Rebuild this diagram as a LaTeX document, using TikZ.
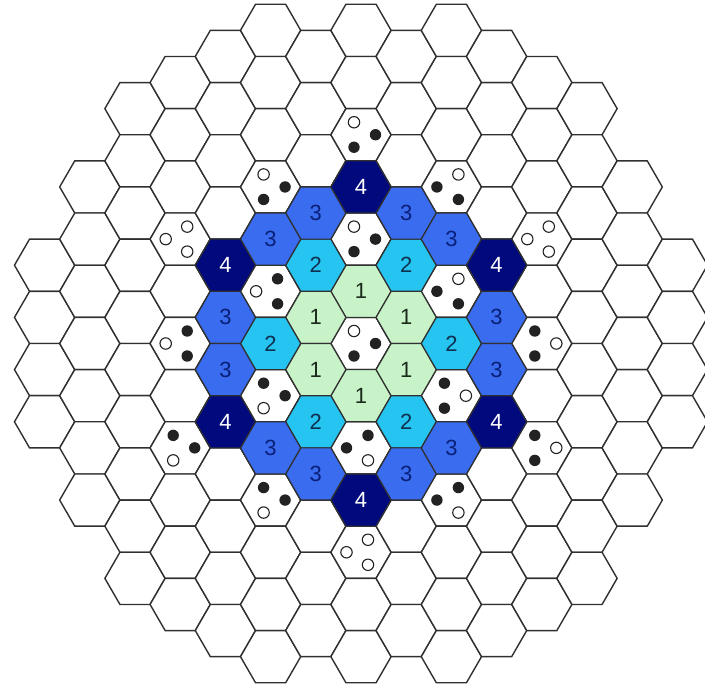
\documentclass[tikz,border=0pt]{standalone}
\usepackage{fontspec}
\setmainfont{Liberation Sans}
\definecolor{gridc}{HTML}{303030}
\definecolor{ringone}{HTML}{C8F2C8}
\definecolor{ringtwo}{HTML}{26C4F0}
\definecolor{ringthree}{HTML}{3A6CF0}
\definecolor{ringfour}{HTML}{000A7C}
\definecolor{txtone}{HTML}{1A2A1A}
\definecolor{txttwo}{HTML}{0F3050}
\definecolor{txtthree}{HTML}{0A2078}
\definecolor{dotc}{HTML}{222222}
\newcommand\hexcell[3]{\path[#3] ({361+45.2*(#1)+30.13},{343.5+52.19*(#2)}) -- ++(-15.065,26.095) -- ++(-30.13,0) -- ++(-15.065,-26.095) -- ++(15.065,-26.095) -- ++(30.13,0) -- cycle;}
\newcommand\dotsR[5]{\begin{scope}[shift={({361+45.2*(#1)},{343.5+52.19*(#2)})}]
 \path[#3] (-7,-12.5) circle (5.7pt); \path[#4] (14.5,0) circle (5.7pt); \path[#5] (-7,12.5) circle (5.7pt);\end{scope}}
\newcommand\dotsL[5]{\begin{scope}[shift={({361+45.2*(#1)},{343.5+52.19*(#2)})}]
 \path[#3] (7,-12.5) circle (5.7pt); \path[#4] (-14.5,0) circle (5.7pt); \path[#5] (7,12.5) circle (5.7pt);\end{scope}}
\tikzset{
  cellw/.style={draw=gridc,line width=1.4pt,fill=white,line join=miter},
  cellone/.style={draw=gridc,line width=1.2pt,fill=ringone},
  celltwo/.style={draw=gridc,line width=1.2pt,fill=ringtwo},
  cellthree/.style={draw=gridc,line width=1.2pt,fill=ringthree},
  cellfour/.style={draw=gridc,line width=1.2pt,fill=ringfour},
  labbase/.style={font=\fontsize{22}{22}\selectfont,inner sep=0pt},
  labone/.style={labbase,text=txtone},
  labtwo/.style={labbase,text=txttwo},
  labthree/.style={labbase,text=txtthree},
  labfour/.style={labbase,text=white},
  dotf/.style={fill=dotc},
  doto/.style={draw=dotc,fill=white,line width=1.1pt}
}
\begin{document}
\begin{tikzpicture}[x=1pt,y=-1pt]
\useasboundingbox (0,0) rectangle (705,686);
\clip (0,0) rectangle (705,686);
\fill[white] (0,0) rectangle (705,686);
% white grid
\foreach \q/\T in {-7/1.5,-6/3,-5/4.5,-4/5,-3/5.5,-2/6,-1/5.5,0/6,1/5.5,2/6,3/5.5,4/5,5/4.5,6/3,7/1.5}{
  \pgfmathtruncatemacro\n{2*\T}
  \foreach \i in {0,...,\n}{
    \pgfmathsetmacro\k{\i-\T}
    \hexcell{\q}{\k}{cellw}
  }
}
% ring 1
\foreach \q/\k [count=\j] in {0/-1,0/1,-1/-0.5,-1/0.5,1/-0.5,1/0.5}{
  \hexcell{\q}{\k}{cellone}
  \node[labone] (one\j) at ({361+45.2*\q},{343.5+52.19*\k}) {1};
}
% ring 2 (edges)
\foreach \q/\k [count=\j] in {-1/-1.5,1/-1.5,-1/1.5,1/1.5,-2/0,2/0}{
  \hexcell{\q}{\k}{celltwo}
  \node[labtwo] (two\j) at ({361+45.2*\q},{343.5+52.19*\k}) {2};
}
% ring 3 (non-corners)
\foreach \q/\k [count=\j] in {-1/-2.5,1/-2.5,-1/2.5,1/2.5,-2/-2,2/-2,-2/2,2/2,-3/-0.5,3/-0.5,-3/0.5,3/0.5}{
  \hexcell{\q}{\k}{cellthree}
  \node[labthree] (three\j) at ({361+45.2*\q},{343.5+52.19*\k}) {3};
}
% ring 3 corners
\foreach \q/\k [count=\j] in {0/-3,0/3,-3/-1.5,3/-1.5,-3/1.5,3/1.5}{
  \hexcell{\q}{\k}{cellfour}
  \node[labfour] (four\j) at ({361+45.2*\q},{343.5+52.19*\k}) {4};
}
% dots
\dotsR{0}{-4}{doto}{dotf}{dotf}
\dotsR{-2}{-3}{doto}{dotf}{dotf}
\dotsL{2}{-3}{doto}{dotf}{dotf}
\dotsL{-4}{-2}{doto}{doto}{doto}
\dotsL{4}{-2}{doto}{doto}{doto}
\dotsR{0}{-2}{doto}{dotf}{dotf}
\dotsL{-2}{-1}{dotf}{doto}{dotf}
\dotsL{2}{-1}{doto}{dotf}{dotf}
\dotsR{0}{0}{doto}{dotf}{dotf}
\dotsL{-4}{0}{dotf}{doto}{dotf}
\dotsR{4}{0}{dotf}{doto}{dotf}
\dotsR{-2}{1}{dotf}{dotf}{doto}
\dotsR{2}{1}{dotf}{doto}{dotf}
\dotsL{0}{2}{dotf}{dotf}{doto}
\dotsR{-4}{2}{dotf}{dotf}{doto}
\dotsR{4}{2}{dotf}{doto}{dotf}
\dotsR{-2}{3}{dotf}{dotf}{doto}
\dotsL{2}{3}{dotf}{dotf}{doto}
\dotsL{0}{4}{doto}{doto}{doto}
\end{tikzpicture}
\end{document}
